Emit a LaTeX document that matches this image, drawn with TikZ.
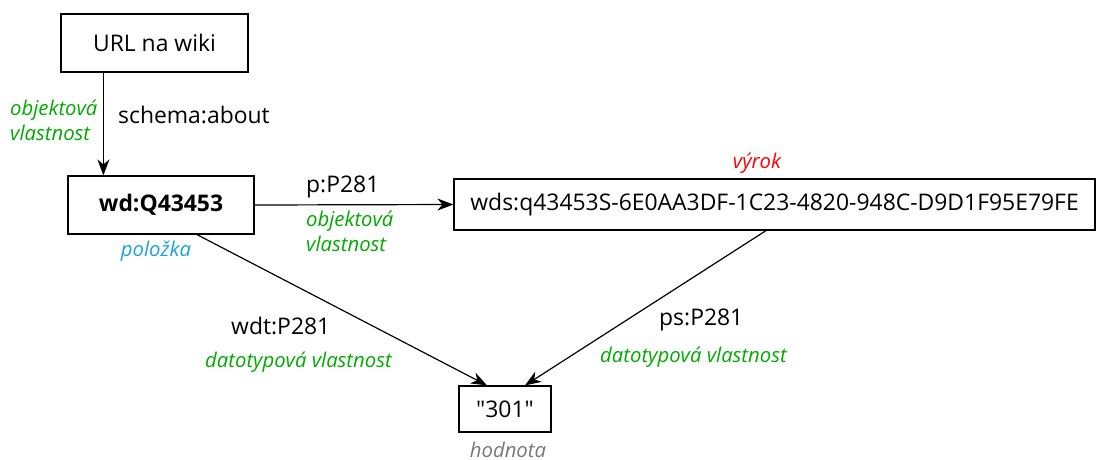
\documentclass[tikz,border=0pt]{standalone}
\usepackage{fontspec}
\setmainfont{Open Sans}[Ligatures=TeXOff]
\usetikzlibrary{arrows.meta,calc}
\definecolor{lgreen}{HTML}{00AA00}
\definecolor{lblue}{HTML}{1BA1E2}
\definecolor{lred}{HTML}{FF0000}
\definecolor{lgrey}{HTML}{777777}
\tikzset{
  box/.style={draw, line width=1.2pt, inner sep=0pt, font=\fontsize{22.9}{27}\selectfont},
  arr/.style={line width=1.2pt, -{Stealth[length=16pt,width=12pt,inset=5pt]}},
  lab/.style={font=\fontsize{22.9}{27}\selectfont, inner sep=0pt, anchor=west},
  glab/.style={font=\fontsize{20.3}{25}\selectfont\itshape, text=lgreen, inner sep=0pt, align=left, anchor=west},
  ilab/.style={font=\fontsize{20.3}{25}\selectfont\itshape, inner sep=0pt},
}
\begin{document}
\begin{tikzpicture}[x=1pt,y=-1pt]
\useasboundingbox (0,0) rectangle (1097,459);
\node[box, minimum width=187pt, minimum height=58pt] (url) at (154.5,43) {URL na wiki};
\node[box, minimum width=186pt, minimum height=58pt, font=\fontsize{22.9}{27}\selectfont\bfseries] (wd) at (161,205) {wd:Q43453};
\node[box, minimum width=641pt, minimum height=51pt] (wds) at (774.5,204.5) {wds:q43453S-6E0AA3DF-1C23-4820-948C-D9D1F95E79FE};
\node[box, minimum width=92pt, minimum height=46pt] (val) at (505,409) {"301"};

\draw[arr] ($(url.south west)+(43,0)$) -- ($(wd.north west)+(36,0)$);
\draw[arr] (wd.east) -- (wds.west);
\draw[arr] ($(wd.south)+(36,0)$) -- ($(val.north)+(-18,0)$);
\draw[arr] ($(wds.south)+(-8.5,0)$) -- ($(val.north)+(20,0)$);

\node[glab] (l1) at (10,120) {objektová\\vlastnost};
\node[lab] (l2) at (118,115) {schema:about};
\node[lab] (l3) at (306,187) {p:P281};
\node[glab] (l4) at (306,231) {objektová\\vlastnost};
\node[ilab, text=lred] (l5) at (757,163) {výrok};
\node[ilab, text=lblue] (l6) at (156,251) {položka};
\node[lab] (l7) at (231,326) {wdt:P281};
\node[glab] (l8) at (205,362) {datotypová vlastnost};
\node[lab] (l9) at (659,320) {ps:P281};
\node[glab] (l10) at (600,357) {datotypová vlastnost};
\node[ilab, text=lgrey] (l11) at (508,450) {hodnota};
\end{tikzpicture}
\end{document}
